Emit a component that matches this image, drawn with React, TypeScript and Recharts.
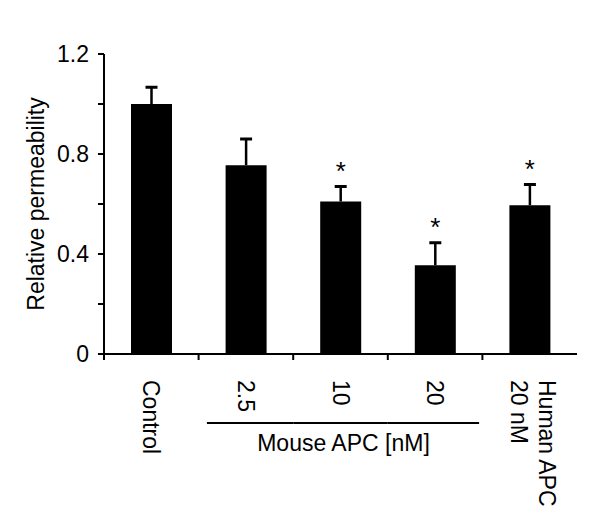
import { BarChart, Bar, XAxis, YAxis } from 'recharts';

const categories = ['Control', '2.5', '10', '20', 'Human APC|20 nM'];
const permeability = [1.0, 0.755, 0.61, 0.355, 0.595];
const sem = [0.067, 0.105, 0.06, 0.09, 0.083];
const significant = [false, false, true, true, true];
const yTicks = [0, 0.2, 0.4, 0.6, 0.8, 1.0, 1.2];

const FONT = '"Liberation Sans", Arial, Helvetica, sans-serif';
const W = 600;
const H = 528;
const MARGIN = { top: 54, right: 23, bottom: 0, left: 0 };
const Y_AXIS_W = 104;
const PLOT_W = W - MARGIN.left - MARGIN.right - Y_AXIS_W;
const BAND = PLOT_W / categories.length;
const FS = 23;
const LINE_H = 28;

const data = categories.map((name, i) => ({
  name,
  value: permeability[i],
  sem: sem[i],
  star: significant[i],
}));

const fmtY = (v: number) => {
  const onMajor = Math.abs(Math.round(v / 0.4) * 0.4 - v) < 1e-6;
  if (!onMajor) return '';
  return v === 0 ? '0' : v.toFixed(1);
};

// bar with an upward-only error whisker and a significance star above it
const StarBar = (props: any) => {
  const { x, y, width, height } = props;
  const p = props.payload ?? props;
  const pxPerUnit = height / p.value;
  const capY = y - p.sem * pxPerUnit;
  const cx = x + width / 2;
  return (
    <g>
      <rect x={x} y={y} width={width} height={height} fill="#000" />
      <line x1={cx} y1={y} x2={cx} y2={capY} stroke="#000" strokeWidth={2.5} />
      <line x1={cx - 6} y1={capY} x2={cx + 6} y2={capY} stroke="#000" strokeWidth={3} />
      {p.star && (
        <text x={cx} y={capY - 7} textAnchor="middle" fontSize={26} fontFamily={FONT} fill="#000">
          *
        </text>
      )}
    </g>
  );
};

const XTick = (props: any) => {
  const { x, y, payload, index } = props;
  const lines = String(payload.value).split('|');
  const ty = y + 26;
  const lx = lines.length > 1 ? x + 3 : x;
  let bracket = null;
  if (index >= 1 && index <= 3) {
    const x1 = index === 1 ? x - 39 : x - BAND / 2;
    const x2 = index === 3 ? x + 44 : x + BAND / 2;
    bracket = <line x1={x1} y1={y + 69} x2={x2} y2={y + 69} stroke="#000" strokeWidth={2} />;
  }
  return (
    <g>
      <line x1={x - BAND / 2} y1={y} x2={x - BAND / 2} y2={y + 6} stroke="#000" strokeWidth={2} />
      {bracket}
      {index === 2 && (
        <text x={x + 3} y={y + 97} textAnchor="middle" fontSize={FS} fontFamily={FONT} fill="#000">
          Mouse APC [nM]
        </text>
      )}
      <text
        x={lx}
        y={ty}
        transform={`rotate(90, ${lx}, ${ty})`}
        fontSize={FS}
        fontFamily={FONT}
        fill="#000"
        dominantBaseline="central"
      >
        {lines.map((l, k) => (
          <tspan key={k} x={lx} dy={k === 0 ? -((lines.length - 1) * LINE_H) / 2 : LINE_H}>
            {l}
          </tspan>
        ))}
      </text>
    </g>
  );
};

const YLabel = (props: any) => {
  const vb = props.viewBox;
  const cx = vb.x + 36;
  const cy = vb.y + vb.height / 2;
  return (
    <text
      x={cx}
      y={cy}
      transform={`rotate(-90, ${cx}, ${cy})`}
      textAnchor="middle"
      dominantBaseline="central"
      fontSize={FS}
      fontFamily={FONT}
      fill="#000"
    >
      Relative permeability
    </text>
  );
};

export default function App() {
  return (
    <div style={{ position: 'absolute', left: 0, top: 0, width: W, height: H, background: '#fff' }}>
      <BarChart width={W} height={H} data={data} margin={MARGIN} barSize={41}>
        <XAxis
          dataKey="name"
          interval={0}
          height={H - MARGIN.top - 300}
          tickLine={false}
          tickSize={0}
          tickMargin={0}
          axisLine={{ stroke: '#000', strokeWidth: 2 }}
          tick={<XTick />}
        />
        <YAxis
          width={Y_AXIS_W}
          domain={[0, 1.2]}
          ticks={yTicks}
          tickFormatter={fmtY}
          tickSize={6}
          tickMargin={9}
          tick={{ fill: '#000', fontSize: FS, fontFamily: FONT }}
          tickLine={{ stroke: '#000', strokeWidth: 2 }}
          axisLine={{ stroke: '#000', strokeWidth: 2 }}
          label={{ value: 'Relative permeability', content: <YLabel /> }}
        />
        <Bar dataKey="value" fill="#000" shape={<StarBar />} isAnimationActive={false} />
      </BarChart>
    </div>
  );
}
